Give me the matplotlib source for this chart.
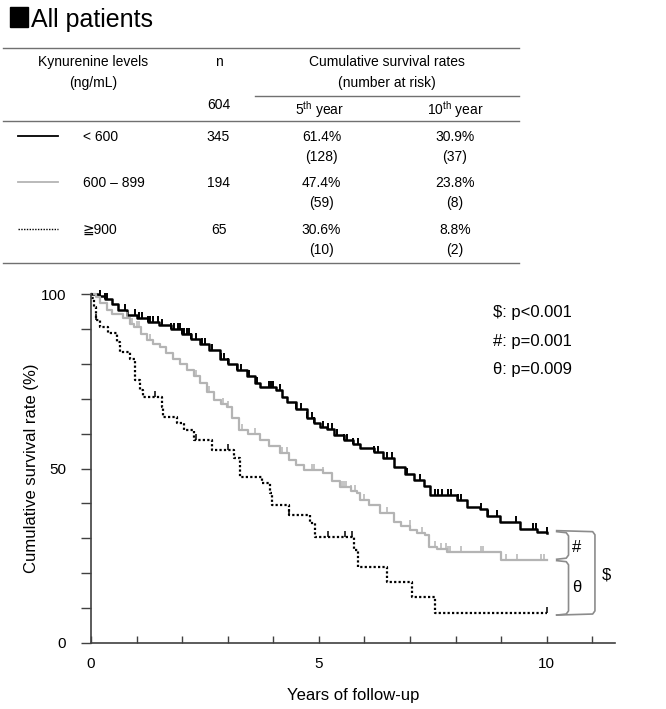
import numpy as np
import matplotlib
matplotlib.use("Agg")
import matplotlib.pyplot as plt
from matplotlib.patches import Rectangle
from matplotlib.path import Path

plt.rcParams["font.family"] = ["Liberation Sans", "DejaVu Sans"]
plt.rcParams["mathtext.fontset"] = "custom"
plt.rcParams["mathtext.rm"] = "Liberation Sans"

W, H = 666, 709

# ── table data ────────────────────────────────────────────
GROUPS = ["< 600", "600 – 899", "≧900"]
N_TOTAL = 604
N_GROUP = [345, 194, 65]
RATE_5Y = ["61.4%", "47.4%", "30.6%"]
RISK_5Y = [128, 59, 10]
RATE_10Y = ["30.9%", "23.8%", "8.8%"]
RISK_10Y = [37, 8, 2]

# ── Kaplan-Meier curves (years, survival %) ──
LOW_T = [0, 0.15, 0.3, 0.45, 0.6, 0.78, 1.0, 1.25, 1.5, 1.75, 2.0, 2.2, 2.4, 2.6,
         2.84, 3.0, 3.2, 3.42, 3.6, 3.71, 4.05, 4.2, 4.3, 4.5, 4.74, 4.9, 5.03,
         5.18, 5.33, 5.55, 5.76, 5.91, 6.2, 6.4, 6.64, 6.9, 7.08, 7.3, 7.45,
         8.03, 8.25, 8.54, 8.69, 8.98, 9.42, 9.78, 10.0]
LOW_S = [100, 99.5, 98.5, 97, 95.5, 94, 93, 92, 91, 90, 88.5, 87, 85.7, 84,
         81.5, 80, 78.2, 76.6, 74.5, 73.4, 72.5, 70.5, 69, 67, 64.5, 63, 62,
         61.3, 59.5, 58.2, 57, 55.8, 54.8, 53, 50.5, 48.5, 46.7, 45, 42.4,
         41, 39.1, 38.3, 36.4, 34.8, 32.6, 31.9, 31.4]
LOW_CENS = [0.2, 0.31, 0.35, 0.75, 0.97, 1.05, 1.11, 1.25, 1.3, 1.35, 1.46, 1.55,
            1.76, 1.82, 1.9, 1.95, 2.0, 2.05, 2.1, 2.15, 2.2, 2.3, 2.44, 2.5,
            2.66, 2.86, 2.92, 3.0, 3.2, 3.3, 3.46, 3.65, 3.9, 3.95, 4.0, 4.15,
            4.5, 4.6, 4.75, 4.85, 4.9, 5.1, 5.2, 5.3, 5.4, 5.55, 5.62, 5.76,
            5.85, 6.2, 6.3, 6.5, 6.6, 6.93, 7.23, 7.56, 7.62, 7.7, 7.84, 7.91,
            8.06, 8.13, 8.57, 8.72, 8.9, 9.33, 9.7, 9.77, 10.0]

MID_T = [0, 0.1, 0.2, 0.35, 0.45, 0.71, 0.85, 0.95, 1.1, 1.22, 1.35, 1.52, 1.65,
         1.8, 1.95, 2.1, 2.25, 2.4, 2.55, 2.69, 2.85, 2.98, 3.1, 3.24, 3.45,
         3.71, 3.9, 4.15, 4.35, 4.5, 4.67, 5.1, 5.3, 5.47, 5.7, 5.84, 5.91,
         6.1, 6.35, 6.64, 6.8, 7.01, 7.15, 7.34, 7.41, 7.6, 7.82, 9.0, 10.0]
MID_S = [100, 99, 97.5, 95.5, 94.4, 93, 91.5, 90.5, 88.5, 86.8, 85.8, 84.9, 83,
         81.5, 80, 78.2, 76.5, 74.4, 72, 69.6, 68.5, 67.7, 64.5, 61.1, 60,
         58.2, 56.5, 54.4, 52.5, 51, 49.6, 48.7, 46.5, 44.8, 43.5, 42.9, 41,
         39.5, 37.2, 34.8, 33.5, 32.4, 31.5, 30.9, 27.6, 26.8, 26.1, 23.8, 23.8]
MID_CENS = [0.8, 0.9, 1.0, 1.05, 1.3, 1.8, 2.1, 2.3, 2.6, 2.7, 2.9, 3.0, 3.32,
            3.6, 4.15, 4.2, 4.3, 4.85, 4.9, 5.1, 5.5, 5.55, 5.6, 5.7, 5.8, 6.0,
            6.5, 7.0, 7.26, 7.55, 7.69, 7.8, 7.83, 7.87, 8.12, 8.55, 8.6, 9.1,
            9.36, 9.87, 9.95]

HIGH_T = [0, 0.03, 0.06, 0.1, 0.2, 0.38, 0.56, 0.64, 0.86, 0.97, 1.08, 1.15,
          1.55, 1.59, 1.88, 2.05, 2.25, 2.65, 3.13, 3.27, 3.75, 3.93, 3.97,
          4.34, 4.81, 4.92, 5.77, 5.87, 6.5, 7.05, 7.56, 10.0]
HIGH_S = [100, 98.8, 96.2, 92.5, 90.6, 88.7, 86.3, 83.4, 81.5, 75.4, 72.5, 70.6,
          67.5, 64.8, 63.0, 61, 58.2, 55.3, 52.9, 47.7, 45.8, 42.9, 39.5,
          36.7, 34.3, 30.5, 26.6, 21.8, 17.6, 13.1, 8.5, 8.5]
HIGH_CENS = [0.1, 1.4, 2.3, 3.0, 4.34, 5.2, 5.58, 5.72, 10.0]

P_TEXT = ["$: p<0.001", "#: p=0.001", "θ: p=0.009"]

CURVES = [
    (LOW_T, LOW_S, LOW_CENS, {"color": "black", "ls": "-", "lw": 1.8, "mew": 1.4}),
    (MID_T, MID_S, MID_CENS, {"color": "#b4b4b4", "ls": "-", "lw": 1.6, "mew": 1.1}),
    (HIGH_T, HIGH_S, HIGH_CENS, {"color": "black", "ls": (0, (1, 1)), "lw": 1.6, "mew": 1.1}),
]

TICK_UP = Path([(0, 0), (0, 1)], [Path.MOVETO, Path.LINETO])
AXIS_COLOR = "#404040"
BRACKET_COLOR = "#8c8c8c"


def fx(px):
    return px / W


def fy(py):
    return 1 - py / H


fig = plt.figure(figsize=(W / 100, H / 100), dpi=100)

# ── header and table ──────────────────────────────────────
fig.patches.append(Rectangle((fx(10), fy(27)), 18 / W, 20 / H,
                             transform=fig.transFigure, color="black"))
fig.text(fx(31), fy(27), "All patients", fontsize=18, va="baseline")

table_fs = 10
for y in (48.3, 120.7, 263.3):
    fig.add_artist(plt.Line2D([fx(3), fx(519)], [fy(y), fy(y)],
                              transform=fig.transFigure, color="#707070", lw=1))
fig.add_artist(plt.Line2D([fx(255), fx(519)], [fy(96), fy(96)],
                          transform=fig.transFigure, color="#707070", lw=1))

fig.text(fx(93), fy(61.7), "Kynurenine levels", fontsize=table_fs, ha="center", va="center")
fig.text(fx(93), fy(83.3), "(ng/mL)", fontsize=table_fs, ha="center", va="center")
fig.text(fx(218.5), fy(61.7), "n", fontsize=table_fs, ha="center", va="center")
fig.text(fx(218.5), fy(105), str(N_TOTAL), fontsize=table_fs, ha="center", va="center")
fig.text(fx(387), fy(61.7), "Cumulative survival rates", fontsize=table_fs, ha="center", va="center")
fig.text(fx(387), fy(83.3), "(number at risk)", fontsize=table_fs, ha="center", va="center")
fig.text(fx(320), fy(109.3), r"5$^{\mathrm{th}}$ year", fontsize=table_fs, ha="center", va="center")
fig.text(fx(455), fy(109.3), r"10$^{\mathrm{th}}$ year", fontsize=table_fs, ha="center", va="center")

row_y = [136.7, 183.3, 230]
for i, (label, y) in enumerate(zip(GROUPS, row_y)):
    style = CURVES[i][3]
    fig.add_artist(plt.Line2D([fx(18), fx(58)], [fy(y - 1), fy(y - 1)],
                              transform=fig.transFigure, color=style["color"],
                              ls=style["ls"], lw=1.3 if i < 2 else 1.0))
    fig.text(fx(83), fy(y), label, fontsize=table_fs, va="center")
    fig.text(fx(218.5), fy(y), str(N_GROUP[i]), fontsize=table_fs, ha="center", va="center")
    fig.text(fx(321.5), fy(y), RATE_5Y[i], fontsize=table_fs, ha="center", va="center")
    fig.text(fx(321.5), fy(y + 20), f"({RISK_5Y[i]})", fontsize=table_fs, ha="center", va="center")
    fig.text(fx(455), fy(y), RATE_10Y[i], fontsize=table_fs, ha="center", va="center")
    fig.text(fx(455), fy(y + 20), f"({RISK_10Y[i]})", fontsize=table_fs, ha="center", va="center")

# ── survival plot ─────────────────────────────────────────
ax = fig.add_axes([fx(91), fy(643), 524 / W, 349 / H])

for t, s, cens, style in CURVES:
    t = np.asarray(t)
    s = np.asarray(s)
    ax.step(t, s, where="post", color=style["color"], ls=style["ls"],
            lw=style["lw"], clip_on=False)
    idx = np.searchsorted(t, cens, side="right") - 1
    ax.plot(cens, s[idx], ls="none", marker=TICK_UP, markersize=8,
            markeredgewidth=style["mew"], color=style["color"], clip_on=False)

ax.set_xlim(0, 11.5)
ax.set_ylim(0, 100)
for side in ("top", "right"):
    ax.spines[side].set_visible(False)
for side in ("left", "bottom"):
    ax.spines[side].set_color(AXIS_COLOR)
    ax.spines[side].set_linewidth(1.2)

ax.set_xticks([0, 5, 10])
ax.set_xticks(np.arange(0, 12), minor=True)
ax.set_yticks([0, 50, 100])
ax.set_yticks(np.arange(0, 101, 10), minor=True)
ax.tick_params(axis="x", which="both", direction="in", length=5, width=1,
               color=AXIS_COLOR, labelsize=11, pad=10)
ax.tick_params(axis="y", which="both", direction="out", length=7, width=1,
               color=AXIS_COLOR, labelsize=11, pad=11)

ax.set_xlabel("Years of follow-up", fontsize=12, labelpad=12)
ax.set_ylabel("Cumulative survival rate (%)", fontsize=12, labelpad=1)

for i, txt in enumerate(P_TEXT):
    ax.text(8.82, 94.6 - i * 8.1, txt, fontsize=12, va="center", clip_on=False)


# brackets for the pairwise comparisons
def bracket(x0, x1, y_top, y_bot):
    ax.plot([x0, x1 - 0.05, x1, x1, x1 - 0.05, x0],
            [y_top, y_top - 0.3, y_top - 1.2, y_bot + 1.2, y_bot + 0.3, y_bot],
            color=BRACKET_COLOR, lw=1.2, clip_on=False, solid_joinstyle="round")


bracket(10.22, 10.48, 31.9, 24.0)
bracket(10.22, 10.48, 23.6, 8.0)
bracket(10.22, 11.06, 32.2, 8.0)
ax.text(10.66, 27.4, "#", fontsize=12, ha="center", va="center")
ax.text(10.66, 15.8, "θ", fontsize=12, ha="center", va="center")
ax.text(11.32, 19.6, "$", fontsize=12, ha="center", va="center")

fig.savefig("out.png", dpi=100)
